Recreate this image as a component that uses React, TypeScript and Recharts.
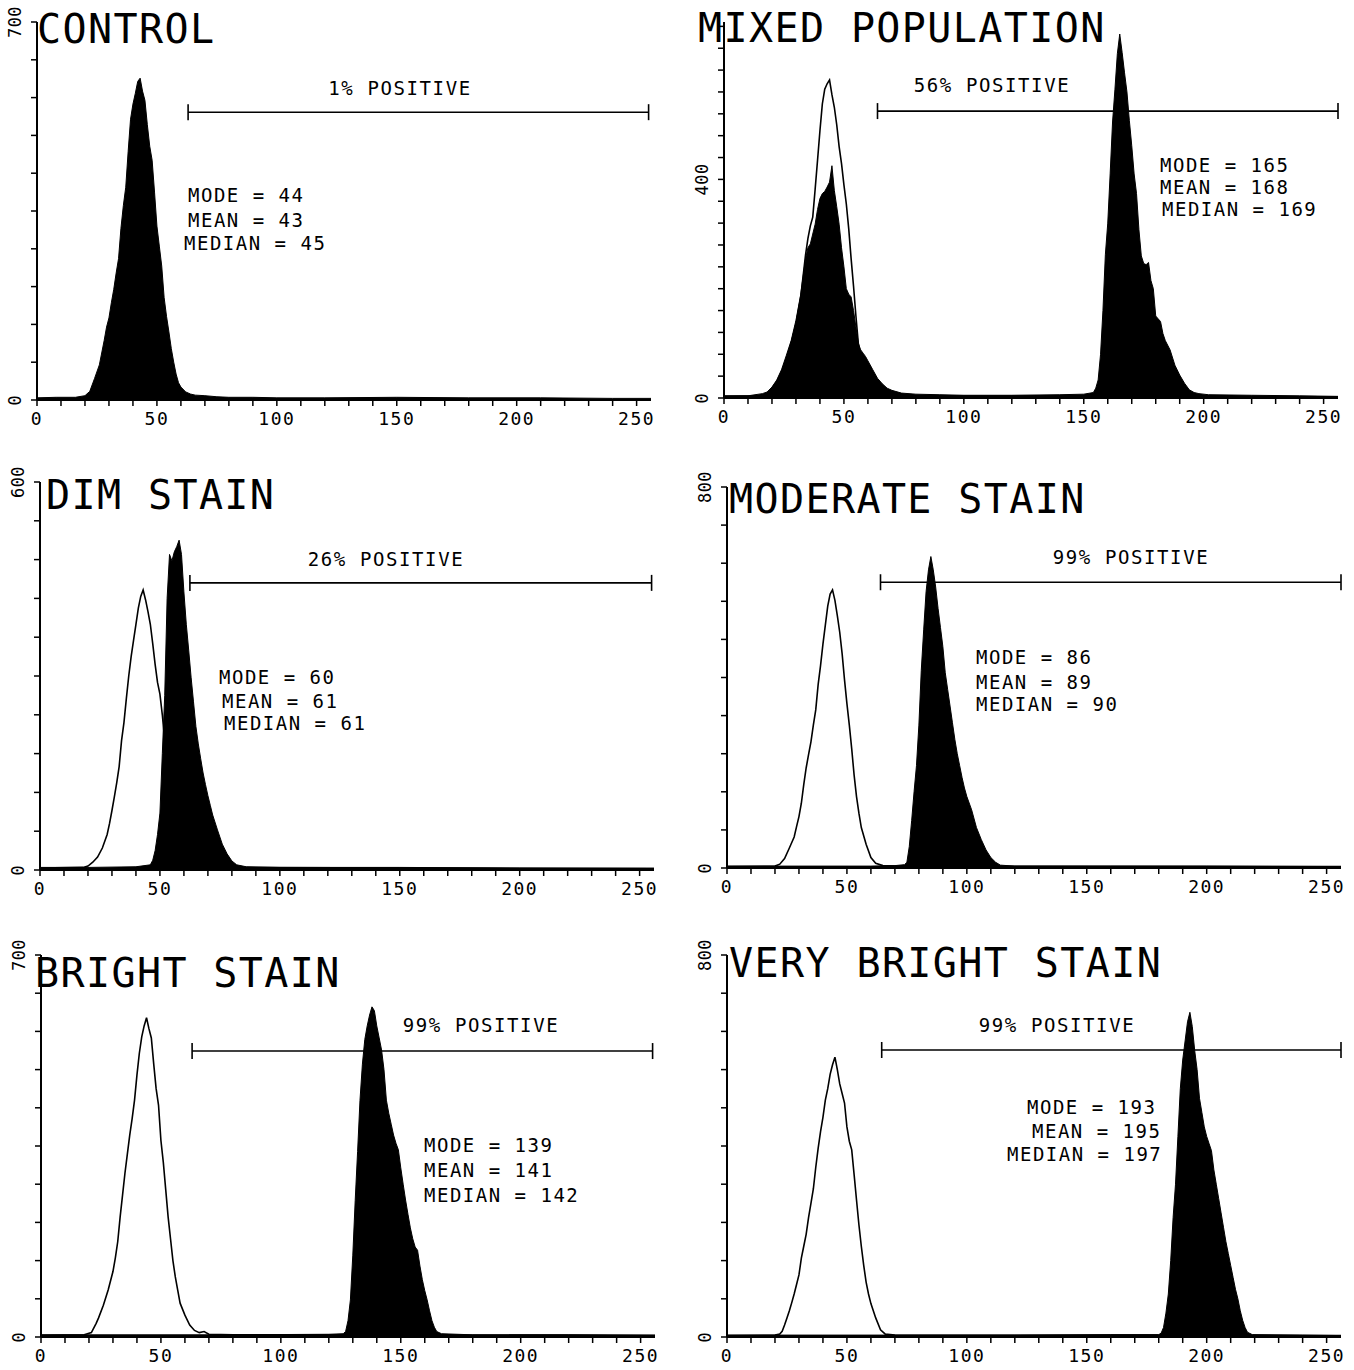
import React from 'react';
import { AreaChart, Area, XAxis, YAxis, ReferenceLine } from 'recharts';

type Pt = [number, number];

// histograms as [channel, count] pairs
const controlFill: Pt[] = [
  [0, 4], [8, 5], [16, 5], [20, 8], [22, 16], [24, 40], [26, 65], [28, 110], [29, 135], [30, 152],
  [31, 180], [32, 205], [33, 235], [34, 262], [35, 318], [36, 360], [37, 394], [38, 460], [39, 520],
  [40, 548], [41, 568], [42, 590], [43, 596], [44, 572], [45, 555], [46, 510], [47, 470], [48, 444],
  [49, 385], [50, 322], [51, 285], [52, 248], [53, 190], [54, 155], [55, 126], [56, 95], [57, 70],
  [58, 48], [59, 32], [60, 24], [62, 15], [64, 11], [66, 9], [70, 8], [75, 6], [80, 5], [90, 5],
  [100, 4], [120, 4], [150, 5], [180, 4], [210, 4], [240, 3], [256, 3],
];

const mixedOutline: Pt[] = [
  [0, 3], [16, 4], [18, 9], [20, 18], [22, 30], [24, 48], [26, 72], [28, 100], [30, 135], [32, 185],
  [34, 262], [35, 292], [36, 315], [37, 331], [38, 382], [39, 435], [40, 489], [41, 538], [42, 565],
  [43, 575], [44, 582], [45, 555], [46, 532], [47, 500], [48, 460], [49, 429], [50, 390], [51, 355],
  [52, 310], [53, 255], [54, 205], [55, 150], [56, 100], [57, 75], [58, 50], [60, 25], [62, 12],
  [65, 6], [70, 4], [256, 2],
];

const mixedFill: Pt[] = [
  [0, 4], [10, 4], [16, 8], [18, 11], [20, 20], [22, 33], [24, 52], [26, 78], [28, 105], [30, 142],
  [32, 190], [34, 255], [35, 275], [36, 282], [37, 300], [38, 318], [39, 345], [40, 365], [41, 374],
  [42, 378], [43, 386], [44, 395], [45, 425], [46, 380], [47, 350], [48, 318], [49, 275], [50, 240],
  [51, 200], [52, 190], [53, 185], [54, 160], [55, 130], [56, 100], [57, 88], [58, 82], [59, 76],
  [60, 68], [62, 52], [64, 36], [66, 26], [68, 18], [70, 14], [74, 9], [80, 7], [90, 6], [100, 5],
  [120, 5], [140, 6], [150, 7], [154, 10], [155, 18], [156, 33], [157, 80], [158, 160], [159, 262],
  [160, 320], [161, 410], [162, 505], [163, 565], [164, 630], [165, 666], [166, 632], [167, 595],
  [168, 560], [169, 508], [170, 462], [171, 410], [172, 374], [173, 308], [174, 260], [175, 246],
  [176, 244], [177, 248], [178, 215], [179, 200], [180, 150], [181, 145], [182, 140], [183, 118],
  [184, 105], [186, 88], [188, 60], [190, 42], [192, 27], [194, 15], [196, 10], [198, 8], [202, 6],
  [220, 5], [240, 4], [256, 3],
];

const dimOutline: Pt[] = [
  [0, 3], [18, 4], [20, 6], [22, 12], [24, 20], [26, 34], [28, 55], [29, 72], [30, 92], [31, 113],
  [32, 135], [33, 160], [34, 200], [35, 228], [36, 265], [37, 300], [38, 330], [39, 355], [40, 380],
  [41, 405], [42, 423], [43, 433], [44, 418], [45, 400], [46, 380], [47, 350], [48, 318], [49, 290],
  [50, 272], [51, 240], [52, 200], [53, 170], [54, 140], [56, 90], [58, 55], [60, 30], [63, 12],
  [66, 6], [70, 4], [256, 2],
];

const dimFill: Pt[] = [
  [0, 4], [20, 4], [40, 5], [46, 8], [47, 15], [48, 30], [49, 55], [50, 88], [51, 180], [52, 270],
  [53, 420], [54, 488], [55, 478], [56, 492], [57, 500], [58, 510], [59, 488], [60, 430], [61, 380],
  [62, 340], [63, 298], [64, 260], [65, 222], [66, 195], [67, 172], [68, 150], [69, 132], [70, 115],
  [71, 100], [72, 85], [74, 62], [76, 40], [78, 25], [80, 14], [82, 8], [86, 5], [100, 4], [150, 4],
  [200, 3], [256, 3],
];

const moderateOutline: Pt[] = [
  [0, 3], [20, 4], [22, 8], [24, 20], [26, 42], [28, 65], [29, 87], [30, 108], [31, 136], [32, 175],
  [33, 210], [34, 238], [35, 265], [36, 300], [37, 332], [38, 385], [39, 425], [40, 470], [41, 510],
  [42, 550], [43, 575], [44, 584], [45, 562], [46, 530], [47, 495], [48, 450], [49, 395], [50, 345],
  [51, 300], [52, 250], [53, 195], [54, 150], [55, 115], [56, 85], [58, 50], [60, 22], [62, 10],
  [65, 5], [70, 4], [256, 3],
];

const moderateFill: Pt[] = [
  [0, 4], [30, 4], [60, 4], [70, 5], [74, 7], [75, 12], [76, 45], [77, 100], [78, 160], [79, 215],
  [80, 300], [81, 415], [82, 500], [83, 580], [84, 626], [85, 654], [86, 626], [87, 590], [88, 545],
  [89, 505], [90, 465], [91, 410], [92, 375], [93, 340], [94, 305], [95, 270], [96, 240], [97, 215],
  [98, 190], [99, 168], [100, 150], [102, 122], [104, 85], [106, 60], [108, 38], [110, 22], [112, 12],
  [114, 6], [120, 4], [160, 4], [200, 4], [256, 3],
];

const brightOutline: Pt[] = [
  [0, 3], [18, 4], [21, 8], [23, 25], [24, 35], [26, 58], [28, 86], [30, 120], [31, 145], [32, 175],
  [33, 220], [34, 260], [35, 300], [36, 335], [37, 370], [38, 400], [39, 434], [40, 480], [41, 520],
  [42, 550], [43, 570], [44, 585], [45, 565], [46, 548], [47, 500], [48, 455], [49, 425], [50, 360],
  [51, 320], [52, 270], [53, 220], [54, 180], [55, 140], [56, 110], [57, 86], [58, 62], [60, 40],
  [62, 22], [64, 12], [66, 8], [68, 10], [70, 5], [80, 4], [256, 3],
];

const brightFill: Pt[] = [
  [0, 4], [40, 4], [80, 4], [120, 5], [126, 6], [127, 10], [128, 30], [129, 68], [130, 150],
  [131, 250], [132, 340], [133, 434], [134, 500], [135, 545], [136, 570], [137, 590], [138, 605],
  [139, 598], [140, 570], [141, 548], [142, 526], [143, 490], [144, 434], [145, 410], [146, 390],
  [147, 370], [148, 355], [149, 343], [150, 310], [151, 280], [152, 251], [153, 225], [154, 200],
  [155, 180], [156, 165], [157, 159], [158, 130], [159, 105], [160, 85], [161, 68], [162, 48],
  [163, 30], [164, 18], [165, 10], [167, 6], [180, 4], [220, 4], [256, 3],
];

const veryBrightOutline: Pt[] = [
  [0, 3], [20, 4], [22, 6], [23, 12], [24, 25], [25, 40], [26, 55], [27, 72], [28, 90], [29, 110],
  [30, 130], [31, 165], [32, 190], [33, 215], [34, 250], [35, 280], [36, 310], [37, 355], [38, 395],
  [39, 430], [40, 460], [41, 496], [42, 520], [43, 550], [44, 570], [45, 586], [46, 560], [47, 530],
  [48, 510], [49, 490], [50, 440], [51, 410], [52, 392], [53, 340], [54, 287], [55, 235], [56, 190],
  [57, 150], [58, 115], [59, 90], [60, 70], [62, 40], [64, 15], [66, 6], [70, 4], [256, 3],
];

const veryBrightFill: Pt[] = [
  [0, 4], [40, 4], [80, 4], [120, 4], [160, 5], [180, 5], [181, 8], [182, 20], [183, 50], [184, 90],
  [185, 160], [186, 250], [187, 320], [188, 420], [189, 520], [190, 580], [191, 620], [192, 660],
  [193, 680], [194, 650], [195, 600], [196, 560], [197, 500], [198, 470], [199, 440], [200, 420],
  [201, 405], [202, 390], [203, 350], [204, 320], [205, 290], [206, 260], [207, 230], [208, 200],
  [209, 175], [210, 150], [211, 125], [212, 100], [213, 80], [214, 55], [215, 35], [216, 20],
  [217, 10], [219, 5], [240, 4], [256, 3],
];

const xTicks = [0, 10, 20, 30, 40, 50, 60, 70, 80, 90, 100, 110, 120, 130, 140, 150, 160, 170, 180, 190, 200, 210, 220, 230, 240, 250];
const xLabels = [0, 50, 100, 150, 200, 250];
const yTicks700 = [0, 70, 140, 210, 280, 350, 420, 490, 560, 630, 700];
const yTicks688 = [0, 40, 80, 120, 160, 200, 240, 280, 320, 360, 400, 440, 480, 520, 560, 600, 640, 680];
const yTicks600 = [0, 60, 120, 180, 240, 300, 360, 420, 480, 540, 600];
const yTicks800 = [0, 80, 160, 240, 320, 400, 480, 560, 640, 720, 800];

const titles = ['CONTROL', 'MIXED POPULATION', 'DIM STAIN', 'MODERATE STAIN', 'BRIGHT STAIN', 'VERY BRIGHT STAIN'];
const gateTexts = ['1% POSITIVE', '56% POSITIVE', '26% POSITIVE', '99% POSITIVE', '99% POSITIVE', '99% POSITIVE'];
// gate channel range and its height in counts
const gateStarts = [63, 64, 62.5, 64, 63, 64.5];
const gateEnds = [255, 256, 255, 256, 255, 256];
const gateLevels = [533, 525, 444, 600, 524, 601];

const controlStats = ['MODE = 44', 'MEAN = 43', 'MEDIAN = 45'];
const mixedStats = ['MODE = 165', 'MEAN = 168', 'MEDIAN = 169'];
const dimStats = ['MODE = 60', 'MEAN = 61', 'MEDIAN = 61'];
const moderateStats = ['MODE = 86', 'MEAN = 89', 'MEDIAN = 90'];
const brightStats = ['MODE = 139', 'MEAN = 141', 'MEDIAN = 142'];
const veryBrightStats = ['MODE = 193', 'MEAN = 195', 'MEDIAN = 197'];

const FONT = '"DejaVu Sans Mono", monospace';
const PLOT_W = 614;
const YW = 40;
const MT = 30;
const MR = 22;
const XH = 36;

// page layout of each panel
const panels = [
  { x0: 37, top: 22, plotH: 378, yMax: 700, yTicks: yTicks700, yLabels: [0, 700], fill: controlFill, outline: null as Pt[] | null,
    title: [37, 43], gateText: [400, 95], stats: controlStats, statPos: [[188, 202], [188, 227], [184, 250]] },
  { x0: 724, top: 22, plotH: 376, yMax: 688, yTicks: yTicks688, yLabels: [0, 400], fill: mixedFill, outline: mixedOutline,
    title: [698, 42], gateText: [992, 92], stats: mixedStats, statPos: [[1160, 172], [1160, 194], [1162, 216]] },
  { x0: 40, top: 482, plotH: 388, yMax: 600, yTicks: yTicks600, yLabels: [0, 600], fill: dimFill, outline: dimOutline,
    title: [46, 509], gateText: [386, 566], stats: dimStats, statPos: [[219, 684], [222, 708], [224, 730]] },
  { x0: 727, top: 487, plotH: 381, yMax: 800, yTicks: yTicks800, yLabels: [0, 800], fill: moderateFill, outline: moderateOutline,
    title: [729, 513], gateText: [1131, 564], stats: moderateStats, statPos: [[976, 664], [976, 689], [976, 711]] },
  { x0: 41, top: 955, plotH: 382, yMax: 700, yTicks: yTicks700, yLabels: [0, 700], fill: brightFill, outline: brightOutline,
    title: [35, 987], gateText: [481, 1032], stats: brightStats, statPos: [[424, 1152], [424, 1177], [424, 1202]] },
  { x0: 727, top: 955, plotH: 382, yMax: 800, yTicks: yTicks800, yLabels: [0, 800], fill: veryBrightFill, outline: veryBrightOutline,
    title: [729, 977], gateText: [1057, 1032], stats: veryBrightStats, statPos: [[1027, 1114], [1032, 1138], [1007, 1161]] },
];

const buildRows = (fill: Pt[], outline: Pt[] | null) => {
  const map = new Map<number, { ch: number; fill?: number; outline?: number }>();
  fill.forEach(([c, v]) => {
    const r = map.get(c) ?? { ch: c };
    r.fill = v;
    map.set(c, r);
  });
  (outline ?? []).forEach(([c, v]) => {
    const r = map.get(c) ?? { ch: c };
    r.outline = v;
    map.set(c, r);
  });
  return [...map.values()].sort((a, b) => a.ch - b.ch);
};

const XTick = (props: any) => {
  const { x, y, payload } = props;
  return (
    <g>
      <line x1={x} x2={x} y1={y} y2={y + 6} stroke="#000" strokeWidth={1.5} />
      {xLabels.includes(payload.value) && (
        <text x={x} y={y + 25} textAnchor="middle" fontFamily={FONT} fontSize={18} letterSpacing={1.5} fill="#000">
          {payload.value}
        </text>
      )}
    </g>
  );
};

const YTick = (props: any) => {
  const { x, y, payload, labels } = props;
  return (
    <g>
      <line x1={x - 6} x2={x} y1={y} y2={y} stroke="#000" strokeWidth={1.5} />
      {labels.includes(payload.value) && (
        <text
          transform={`translate(${x - 22}, ${y}) rotate(-90)`}
          textAnchor="middle"
          dominantBaseline="central"
          fontFamily={FONT}
          fontSize={17}
          letterSpacing={0.5}
          fill="#000"
        >
          {payload.value}
        </text>
      )}
    </g>
  );
};

const Panel = ({ p, i }: { p: (typeof panels)[number]; i: number }) => {
  const rows = buildRows(p.fill, p.outline);
  const cap = (8 * p.yMax) / p.plotH;
  const gs = gateStarts[i];
  const ge = gateEnds[i];
  const gl = gateLevels[i];
  return (
    <div style={{ position: 'absolute', left: p.x0 - YW, top: p.top - MT }}>
      <AreaChart width={YW + PLOT_W + MR} height={MT + p.plotH + XH} data={rows} margin={{ top: MT, right: MR, bottom: 0, left: 0 }}>
        <XAxis
          dataKey="ch"
          type="number"
          domain={[0, 256]}
          ticks={xTicks}
          interval={0}
          tick={(tp: any) => <XTick {...tp} />}
          tickLine={false}
          tickSize={0}
          tickMargin={0}
          axisLine={{ stroke: '#000', strokeWidth: 2 }}
          height={XH}
          allowDataOverflow
        />
        <YAxis
          type="number"
          domain={[0, p.yMax]}
          ticks={p.yTicks}
          interval={0}
          tick={(tp: any) => <YTick {...tp} labels={p.yLabels} />}
          tickLine={false}
          tickSize={0}
          tickMargin={0}
          axisLine={{ stroke: '#000', strokeWidth: 2 }}
          width={YW}
          allowDataOverflow
        />
        {p.outline && (
          <Area
            dataKey="outline"
            type="linear"
            stroke="#000"
            strokeWidth={1.6}
            fill="none"
            connectNulls
            dot={false}
            activeDot={false}
            isAnimationActive={false}
          />
        )}
        <Area
          dataKey="fill"
          type="linear"
          stroke="#000"
          strokeWidth={1}
          fill="#000"
          fillOpacity={1}
          connectNulls
          dot={false}
          activeDot={false}
          isAnimationActive={false}
        />
        <ReferenceLine segment={[{ x: gs, y: gl }, { x: ge, y: gl }]} stroke="#000" strokeWidth={1.6} />
        <ReferenceLine segment={[{ x: gs, y: gl - cap }, { x: gs, y: gl + cap }]} stroke="#000" strokeWidth={1.6} />
        <ReferenceLine segment={[{ x: ge, y: gl - cap }, { x: ge, y: gl + cap }]} stroke="#000" strokeWidth={1.6} />
      </AreaChart>
    </div>
  );
};

const App = () => {
  return (
    <div style={{ position: 'absolute', left: 0, top: 0, width: 1354, height: 1370, background: '#fff', overflow: 'hidden' }}>
      {panels.map((p, i) => (
        <Panel key={i} p={p} i={i} />
      ))}
      <svg width={1354} height={1370} style={{ position: 'absolute', left: 0, top: 0, pointerEvents: 'none' }}>
        {panels.map((p, i) => (
          <g key={i} fontFamily={FONT} fill="#000">
            <text x={p.title[0]} y={p.title[1]} fontSize={40} letterSpacing={1.4}>
              {titles[i]}
            </text>
            <text x={p.gateText[0]} y={p.gateText[1]} fontSize={19} letterSpacing={1.6} textAnchor="middle">
              {gateTexts[i]}
            </text>
            {p.stats.map((s, j) => (
              <text key={j} x={p.statPos[j][0]} y={p.statPos[j][1]} fontSize={19} letterSpacing={1.5}>
                {s}
              </text>
            ))}
          </g>
        ))}
      </svg>
    </div>
  );
};

export default App;
